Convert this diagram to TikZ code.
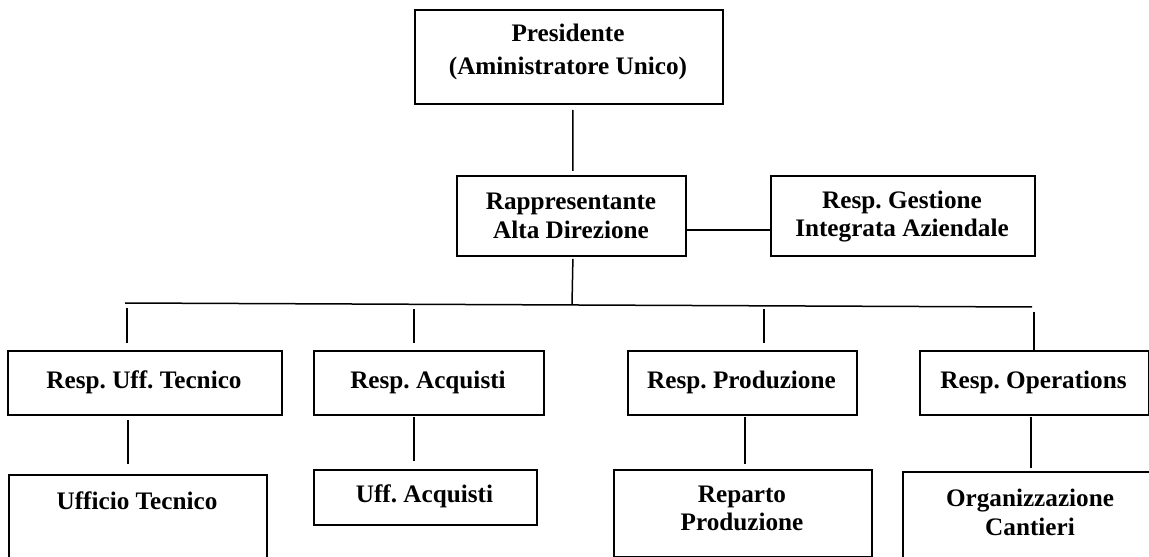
\documentclass[tikz,border=0pt]{standalone}
\usepackage{fontspec}
\setmainfont{Liberation Serif}
\begin{document}
\frenchspacing
\begin{tikzpicture}[x=1bp,y=-1bp,
  box/.style={draw=black,line width=1.8bp,rectangle,inner sep=0pt,anchor=north west},
  lbl/.style={font=\bfseries\fontsize{25.2bp}{28.8bp}\selectfont,align=center,inner sep=0pt},
  con/.style={line width=1.5bp}]
\useasboundingbox (0,0) rectangle (1149,557);
\clip (0,0) rectangle (1149,557);
% boxes
\node[box,minimum width=308bp,minimum height=94bp] (pres) at (414,9) {};
\node[box,minimum width=229bp,minimum height=80bp] (rad) at (456,175) {};
\node[box,minimum width=264bp,minimum height=80bp] (rgia) at (770,175) {};
\node[box,minimum width=274bp,minimum height=64bp] (rut) at (7,350) {};
\node[box,minimum width=230bp,minimum height=64bp] (ra) at (313,350) {};
\node[box,minimum width=229bp,minimum height=64bp] (rp) at (627,350) {};
\node[box,minimum width=229bp,minimum height=64bp] (ro) at (919,350) {};
\node[box,minimum width=258bp,minimum height=110bp] (ut) at (8,474) {};
\node[box,minimum width=223bp,minimum height=55bp] (ua) at (313,469) {};
\node[box,minimum width=258bp,minimum height=87bp] (repp) at (613,469) {};
\node[box,minimum width=280bp,minimum height=110bp] (oc) at (902,471) {};
% texts
\node[lbl] (tpres) at (568,52) {Presidente\\[4bp](Aministratore Unico)};
\node[lbl] (trad) at (571,216) {Rappresentante\\Alta Direzione};
\node[lbl] (trgia) at (902,216.5) {Resp. Gestione\\Integrata Aziendale};
\node[lbl] (trut) at (144,382) {Resp. Uff. Tecnico};
\node[lbl] (tra) at (428,382) {Resp. Acquisti};
\node[lbl] (trp) at (741.5,382) {Resp. Produzione};
\node[lbl] (tro) at (1033.5,382) {Resp. Operations};
\node[lbl] (tut) at (137,501) {Ufficio Tecnico};
\node[lbl] (tua) at (424.5,496.5) {Uff. Acquisti};
\node[lbl] (trepp) at (742,508.5) {Reparto\\Produzione};
\node[lbl] (toc) at (1030,512.5) {Organizzazione\\Cantieri};
% bus coordinates
\coordinate (busL) at (125,303);
\coordinate (busR) at (1032,307);
\coordinate (b0) at (572,305);
\coordinate (t1) at (127,308);
\coordinate (t2) at (414,309);
\coordinate (t3) at (764,309);
\coordinate (t4) at (1034,312);
% connectors
\draw[con] ([xshift=4bp,yshift=-5bp]pres.south) -- ([xshift=1.5bp,yshift=4bp]rad.north);
\draw[con] ([yshift=-14bp]rad.east) -- ([yshift=-14bp]rgia.west);
\draw[con] ([xshift=1.5bp,yshift=-2bp]rad.south) -- (b0);
\draw[con] (busL) -- (busR);
\draw[con,shorten >=7bp] (t1) -- (t1 |- rut.north);
\draw[con,shorten >=7bp] (t2) -- (t2 |- ra.north);
\draw[con,shorten >=7bp] (t3) -- (t3 |- rp.north);
\draw[con] (t4) -- (t4 |- ro.north);
\draw[con,shorten <=4bp,shorten >=10bp] (rut.south -| 128,0) -- (ut.north -| 128,0);
\draw[con,shorten <=1bp,shorten >=8bp] (ra.south -| 414,0) -- (ua.north -| 414,0);
\draw[con,shorten <=1bp,shorten >=5bp] (rp.south -| 745,0) -- (repp.north -| 745,0);
\draw[con,shorten <=1bp,shorten >=3bp] (ro.south -| 1031,0) -- (oc.north -| 1031,0);
\end{tikzpicture}
\end{document}
